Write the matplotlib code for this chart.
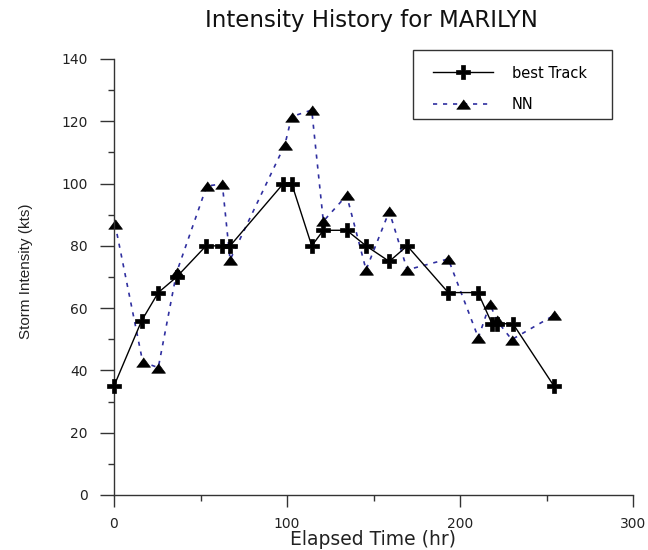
import matplotlib
matplotlib.use("Agg")
import matplotlib.pyplot as plt
from matplotlib.ticker import MultipleLocator
from matplotlib.patches import Rectangle

# Best track data
bt_time = [0, 16, 25.6, 36.2, 53.2, 62.3, 67.1, 97.9, 102.7, 114.3, 121, 134.5,
           145.7, 159.1, 169.5, 193.2, 210.4, 218.5, 221.4, 230.6, 254.3]
bt_int = [35, 56, 65, 70, 80, 80, 80, 100, 100, 80, 85, 85,
          80, 75, 80, 65, 65, 55, 55, 55, 35]

# NN data
nn_time = [0.6, 16.6, 25.6, 36.2, 53.6, 62.6, 67.1, 98.8, 102.7, 114.3, 121, 134.5,
           145.7, 159.1, 169.5, 193.2, 210.6, 217.3, 221.2, 229.9, 254.3]
nn_int = [87, 42.7, 40.9, 71.5, 99.2, 99.9, 75.5, 112.5, 121.5, 123.6, 87.9, 96.2,
          72.3, 91.1, 72.3, 75.8, 50.5, 61.4, 56.1, 49.9, 57.7]

plt.rcParams['font.family'] = ['DejaVu Sans']

W, H = 648, 550
fig = plt.figure(figsize=(W / 100, H / 100), dpi=100)
x0, x1, y0, y1 = 114, 633, 495, 59
ax = fig.add_axes([x0 / W, 1 - y0 / H, (x1 - x0) / W, (y0 - y1) / H])


def axx(px):
    return (px - x0) / (x1 - x0)


def axy(py):
    return (y0 - py) / (y0 - y1)


tri = [(-1, -0.68), (1, -0.68), (0, 0.68)]

ax.plot(bt_time, bt_int, color='black', lw=1.0, marker='P', ms=9.5,
        mfc='black', mec='black', mew=0.5, label='best Track', clip_on=False, zorder=3)
ax.plot(nn_time, nn_int, color='#2f2fa0', lw=1.2, linestyle=(0, (2.5, 3.5)),
        marker=tri, ms=10, mfc='black', mec='black', mew=0.5, label='NN',
        clip_on=False, zorder=2)

ax.set_xlim(0, 300)
ax.set_ylim(0, 140)
ax.xaxis.set_major_locator(MultipleLocator(100))
ax.xaxis.set_minor_locator(MultipleLocator(50))
ax.yaxis.set_major_locator(MultipleLocator(20))
ax.yaxis.set_minor_locator(MultipleLocator(10))
for s in ['top', 'right']:
    ax.spines[s].set_visible(False)
for s in ['left', 'bottom']:
    ax.spines[s].set_linewidth(1.0)
    ax.spines[s].set_color('#333333')
ax.tick_params(axis='y', which='major', length=10, width=1, color='#333333',
               labelsize=10, labelcolor='#222222', pad=9)
ax.tick_params(axis='x', which='major', length=8.6, width=1, color='#333333',
               labelsize=10, labelcolor='#222222', pad=7)
ax.tick_params(axis='both', which='minor', length=4.3, width=1, color='#333333')

ax.set_xlabel('Elapsed Time (hr)', fontsize=13.5, color='#222222')
ax.xaxis.set_label_coords(axx(373), axy(530))
ax.set_ylabel('Storm Intensity (kts)', fontsize=11, color='#222222',
              family=['Liberation Sans', 'DejaVu Sans'])
ax.yaxis.set_label_coords(axx(33), axy(271))
fig.suptitle('Intensity History for MARILYN', fontsize=16.5, x=371 / W, y=1 - 9 / H,
             color='#111111')

# legend frame
ax.add_patch(Rectangle((axx(413), axy(119)), axx(612) - axx(413), axy(50) - axy(119),
                       transform=ax.transAxes, facecolor='white', edgecolor='#333333',
                       lw=1.0, clip_on=False, zorder=4))
leg = ax.legend(loc='upper left', bbox_to_anchor=(axx(433), axy(65.5)),
                borderaxespad=0, borderpad=0, fontsize=10.5, frameon=False,
                handlelength=4.1, labelspacing=1.15, handletextpad=1.3)
leg.set_zorder(5)

fig.savefig('out.png', dpi=100, facecolor='white')
